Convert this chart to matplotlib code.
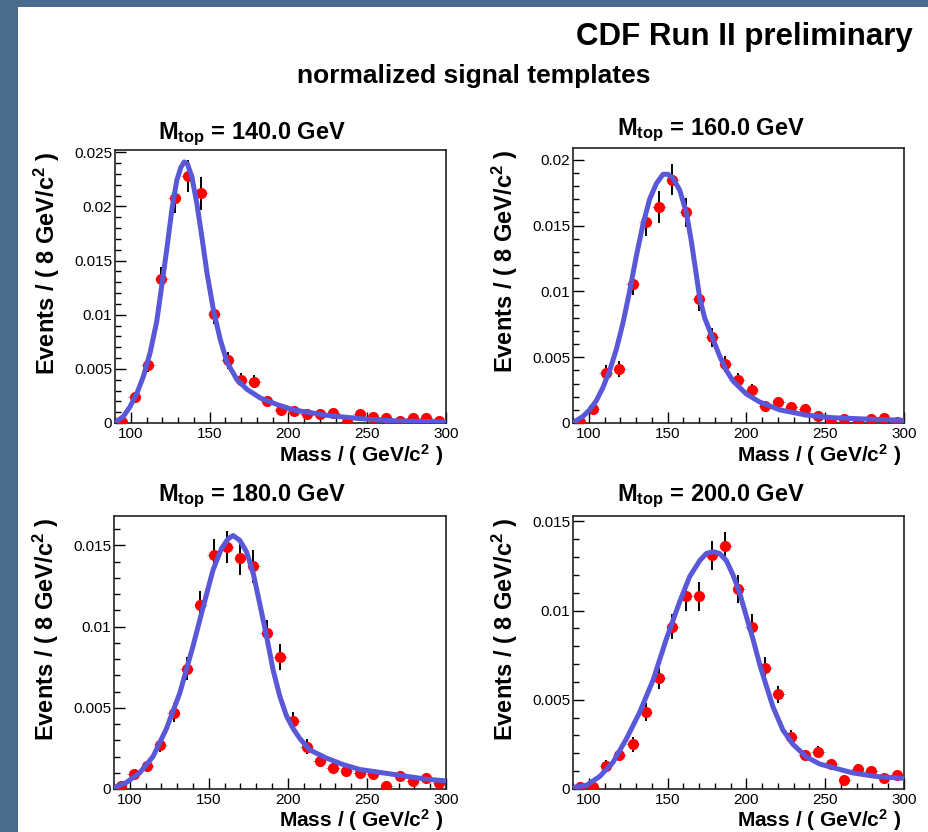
import matplotlib
matplotlib.use("Agg")
import matplotlib.pyplot as plt
from matplotlib.patches import Rectangle
from matplotlib.ticker import MultipleLocator, FuncFormatter

plt.rcParams['font.family'] = ['Liberation Sans', 'DejaVu Sans']
plt.rcParams['mathtext.fontset'] = 'custom'
plt.rcParams['mathtext.rm'] = 'Liberation Sans:bold'
plt.rcParams['mathtext.bf'] = 'Liberation Sans:bold'
plt.rcParams['mathtext.default'] = 'bf'

# bin centres (8.4 GeV bins from 90 to 300)
mass = [94.2, 102.6, 111.0, 119.4, 127.8, 136.2, 144.6, 153.0, 161.4, 169.8,
        178.2, 186.6, 195.0, 203.4, 211.8, 220.2, 228.6, 237.0, 245.4, 253.8,
        262.2, 270.6, 279.0, 287.4, 295.8]

top_masses = ["140.0", "160.0", "180.0", "200.0"]

# template histograms
events_140 = [0.0001, 0.0024, 0.0054, 0.0133, 0.0208, 0.0228, 0.0212, 0.0101, 0.0058, 0.0040,
              0.0038, 0.0020, 0.0012, 0.0011, 0.0008, 0.0008, 0.0009, 0.0001, 0.0008, 0.0006,
              0.0005, 0.0002, 0.0005, 0.0005, 0.0002]
errors_140 = [0.0001, 0.0005, 0.0007, 0.0011, 0.0014, 0.0015, 0.0015, 0.0010, 0.0008, 0.0006,
              0.0006, 0.0005, 0.0004, 0.0003, 0.0003, 0.0003, 0.0003, 0.0001, 0.0003, 0.0002,
              0.0002, 0.0001, 0.0002, 0.0002, 0.0001]

events_160 = [0.0001, 0.0011, 0.0038, 0.0041, 0.0106, 0.0153, 0.0164, 0.0185, 0.0160, 0.0094,
              0.0065, 0.0045, 0.0033, 0.0025, 0.0013, 0.0016, 0.0012, 0.0011, 0.0005, 0.0001,
              0.0003, 0.0001, 0.0003, 0.0004, 0.0001]
errors_160 = [0.0001, 0.0003, 0.0006, 0.0006, 0.0009, 0.0011, 0.0012, 0.0012, 0.0011, 0.0009,
              0.0007, 0.0006, 0.0005, 0.0005, 0.0003, 0.0004, 0.0003, 0.0003, 0.0002, 0.0001,
              0.00015, 0.0001, 0.00015, 0.0002, 0.0001]

events_180 = [0.0002, 0.0009, 0.0014, 0.0027, 0.0047, 0.0074, 0.0113, 0.0144, 0.0149, 0.0142,
              0.0137, 0.0096, 0.0081, 0.0042, 0.0026, 0.0017, 0.0013, 0.0011, 0.0010, 0.0009,
              0.0002, 0.0008, 0.0005, 0.0007, 0.0004]
errors_180 = [0.0001, 0.00025, 0.0003, 0.00045, 0.0006, 0.0007, 0.0009, 0.0010, 0.0010, 0.0010,
              0.0010, 0.0008, 0.0008, 0.00055, 0.00045, 0.00035, 0.0003, 0.0003, 0.0003, 0.00025,
              0.0001, 0.00025, 0.0002, 0.0002, 0.00015]

events_200 = [0.0001, 0.0001, 0.0013, 0.0019, 0.0025, 0.0043, 0.0062, 0.0091, 0.0108, 0.0108,
              0.0131, 0.0136, 0.0112, 0.0091, 0.0068, 0.0053, 0.0029, 0.0019, 0.0021, 0.0014,
              0.0005, 0.0011, 0.0010, 0.0006, 0.0008]
errors_200 = [0.0001, 0.0001, 0.0003, 0.0003, 0.0004, 0.0005, 0.0006, 0.0007, 0.0008, 0.0008,
              0.0008, 0.0008, 0.0008, 0.0007, 0.0006, 0.0005, 0.0004, 0.0003, 0.0003, 0.0003,
              0.00015, 0.00025, 0.00025, 0.0002, 0.0002]

# fitted template curves
fit_x_140 = [90.6, 95.3, 99.5, 103.8, 108.0, 112.3, 116.5, 119.7, 122.9, 126.1, 129.2, 131.8,
             133.9, 136.0, 138.8, 142.0, 145.2, 148.3, 152.6, 156.8, 161.1, 167.4, 173.8, 182.3,
             192.9, 203.5, 224.7, 245.9, 267.1, 300.0]
fit_y_140 = [0.0001, 0.0006, 0.0015, 0.0027, 0.0043, 0.0065, 0.0094, 0.0127, 0.0161, 0.0197,
             0.0224, 0.0236, 0.0241, 0.0239, 0.0227, 0.0202, 0.0171, 0.0139, 0.0103, 0.0077,
             0.0056, 0.0040, 0.0031, 0.0023, 0.0017, 0.0012, 0.0007, 0.0004, 0.0002, 0.0001]

fit_x_160 = [91.1, 96.3, 100.6, 104.8, 109.0, 113.3, 117.5, 121.7, 125.9, 130.2, 134.4, 138.6,
             142.9, 147.1, 150.3, 153.4, 157.7, 161.9, 165.1, 168.2, 170.4, 173.5, 178.4, 183.0,
             187.3, 191.5, 200.0, 208.4, 221.1, 238.0, 254.9, 276.1, 300.0]
fit_y_160 = [0.0001, 0.0005, 0.0010, 0.0017, 0.0027, 0.0040, 0.0056, 0.0076, 0.0100, 0.0127,
             0.0151, 0.0170, 0.0182, 0.0189, 0.0189, 0.0186, 0.0177, 0.0160, 0.0138, 0.0113,
             0.0095, 0.0080, 0.0065, 0.0051, 0.0040, 0.0032, 0.0022, 0.0016, 0.0010, 0.0006,
             0.0004, 0.0003, 0.0002]

fit_x_180 = [90.4, 97.8, 106.3, 114.7, 123.1, 131.6, 140.0, 146.4, 152.7, 158.0, 162.2, 165.3,
             169.6, 173.8, 178.0, 182.2, 186.5, 190.7, 194.9, 199.1, 203.4, 207.6, 213.9, 224.4,
             235.0, 245.6, 266.7, 287.8, 300.0]
fit_y_180 = [0.0001, 0.0004, 0.0010, 0.0020, 0.0037, 0.0059, 0.0088, 0.0112, 0.0135, 0.0148,
             0.0154, 0.0156, 0.0153, 0.0146, 0.0133, 0.0114, 0.0094, 0.0073, 0.0057, 0.0045,
             0.0037, 0.0031, 0.0024, 0.0019, 0.0015, 0.0012, 0.0009, 0.0006, 0.0005]

fit_x_200 = [91.1, 98.5, 106.9, 115.4, 123.8, 132.3, 140.8, 149.2, 157.7, 164.0, 170.4, 174.6,
             178.8, 183.0, 187.3, 191.5, 195.7, 199.9, 204.2, 208.4, 212.6, 216.9, 223.2, 229.6,
             238.0, 246.5, 254.9, 267.6, 282.4, 300.0]
fit_y_200 = [0.0001, 0.0002, 0.0007, 0.0015, 0.0028, 0.0043, 0.0061, 0.0084, 0.0105, 0.0119,
             0.0128, 0.0132, 0.0133, 0.0132, 0.0128, 0.0120, 0.0110, 0.0097, 0.0084, 0.0070,
             0.0058, 0.0046, 0.0033, 0.0025, 0.0018, 0.0014, 0.0012, 0.0009, 0.0007, 0.0006]

y_max = [0.0252, 0.0209, 0.0168, 0.0153]

W, H = 929, 832
fig = plt.figure(figsize=(W / 100, H / 100), dpi=100)
fig.patch.set_facecolor('#4a6b8c')
# white slide panel behind everything
fig.patches.append(Rectangle((18 / W, 0), 1 - 18 / W, 1 - 7 / H, transform=fig.transFigure,
                             facecolor='white', edgecolor='none', zorder=-10))


def px_box(l, t, r, b):
    return [l / W, 1 - b / H, (r - l) / W, (b - t) / H]


boxes = [(115, 150, 446, 423), (573, 148, 904, 423), (114, 516, 446, 789), (573, 516, 904, 789)]
title_pos = [(252, 139), (711, 135), (252, 501), (711, 501)]
xlabel_base = [462, 462, 827, 827]

all_events = [events_140, events_160, events_180, events_200]
all_errors = [errors_140, errors_160, errors_180, errors_200]
all_fit_x = [fit_x_140, fit_x_160, fit_x_180, fit_x_200]
all_fit_y = [fit_y_140, fit_y_160, fit_y_180, fit_y_200]

for i in range(4):
    l, t, r, b = boxes[i]
    ax = fig.add_axes(px_box(l, t, r, b))
    ax.set_zorder(1)
    ax.errorbar(mass, all_events[i], xerr=4.2, fmt='none', ecolor='#9a9a9a', elinewidth=0.8, zorder=2)
    ax.errorbar(mass, all_events[i], yerr=all_errors[i], fmt='o', color='#ff0000', markersize=8,
                markeredgewidth=0, ecolor='black', elinewidth=1.4, zorder=3)
    ax.plot(all_fit_x[i], all_fit_y[i], color='#5858d8', lw=3.6, solid_joinstyle='round',
            solid_capstyle='round', zorder=4)

    ax.set_xlim(90, 300)
    ax.set_ylim(0, y_max[i])
    ax.xaxis.set_major_locator(MultipleLocator(50))
    ax.xaxis.set_minor_locator(MultipleLocator(10))
    ax.yaxis.set_major_locator(MultipleLocator(0.005))
    ax.yaxis.set_minor_locator(MultipleLocator(0.001))
    ax.yaxis.set_major_formatter(FuncFormatter(lambda v, p: '%g' % round(v, 4)))
    ax.tick_params(which='both', direction='in', width=1, labelsize=11)
    ax.tick_params(which='major', length=8)
    ax.tick_params(which='minor', length=4)
    ax.tick_params(axis='x', pad=3)
    ax.tick_params(axis='y', pad=2)
    for s in ax.spines.values():
        s.set_linewidth(1.2)
        s.set_color('#222222')

    tx, ty = title_pos[i]
    fig.text(tx / W, 1 - ty / H, r'$\mathbf{M}_{\mathbf{top}}$ = ' + top_masses[i] + ' GeV',
             ha='center', va='baseline', fontsize=17, fontweight='bold')
    fig.text((l - 68) / W, 1 - (t + 1) / H, r'Events / ( 8 GeV/c$^{2}$ )', rotation=90,
             ha='center', va='top', fontsize=17, fontweight='bold')
    fig.text((r - 3) / W, 1 - xlabel_base[i] / H, r'Mass / ( GeV/c$^{2}$ )',
             ha='right', va='baseline', fontsize=15, fontweight='bold')

fig.text(913 / W, 1 - 45 / H, 'CDF Run II preliminary', ha='right', va='baseline',
         fontsize=22.5, fontweight='bold')
fig.text(474 / W, 1 - 83 / H, 'normalized signal templates', ha='center', va='baseline',
         fontsize=19, fontweight='bold')

fig.savefig('out.png', dpi=100, facecolor=fig.get_facecolor())
